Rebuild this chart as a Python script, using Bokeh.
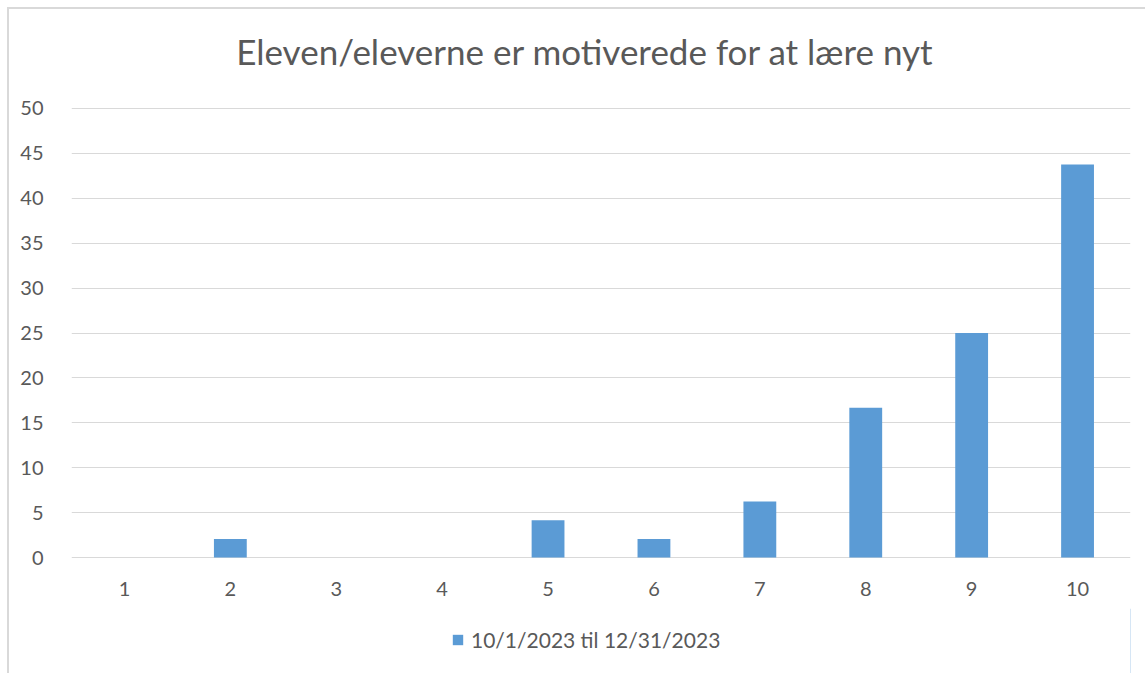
from bokeh.plotting import figure
from bokeh.layouts import column
from bokeh.models import Legend, LegendItem, FixedTicker, ColumnDataSource, Label
from bokeh.embed import file_html
from bokeh.resources import INLINE

categories = ["1", "2", "3", "4", "5", "6", "7", "8", "9", "10"]
values = [0, 2.08, 0, 0, 4.17, 2.08, 6.25, 16.67, 25.0, 43.75]
series_name = "10/1/2023 til 12/31/2023"
title_text = "Eleven/eleverne er motiverede for at lære nyt"
y_ticks = [0, 5, 10, 15, 20, 25, 30, 35, 40, 45, 50]

FONT = "Lato"
TXT = "#595959"
BAR = "#5b9bd5"
W = 1136

def strip(height, xr, yr):
    f = figure(width=W, height=height, x_range=xr, y_range=yr,
               x_axis_location=None, y_axis_location=None,
               output_backend="svg", toolbar_location=None, min_border=0)
    f.outline_line_color = None
    f.grid.visible = False
    return f

# title strip
p0 = strip(80, (0, W), (0, 80))
p0.add_layout(Label(x=551, y=39, text=title_text, text_font=FONT, text_font_size="35px",
                    text_color=TXT, text_align="center", text_baseline="middle"))

# main chart
src = ColumnDataSource(dict(cat=categories, val=values))
p = figure(width=W, height=519, x_range=categories, y_range=(-0.1, 50.1),
           output_backend="svg", toolbar_location=None,
           min_border_left=62, min_border_right=15, min_border_top=18, min_border_bottom=50)
p.outline_line_color = None
p.border_fill_color = "white"
p.background_fill_color = "white"
p.x_range.range_padding = 0

r = p.vbar(x="cat", top="val", width=0.31, source=src, fill_color=BAR, line_color=None)

p.yaxis.ticker = FixedTicker(ticks=y_ticks)
for ax in (p.xaxis[0], p.yaxis[0]):
    ax.axis_line_color = None
    ax.major_tick_line_color = None
    ax.minor_tick_line_color = None
    ax.major_label_text_font = FONT
    ax.major_label_text_font_size = "20px"
    ax.major_label_text_color = TXT
p.yaxis.major_label_standoff = 22
p.xaxis.major_label_standoff = 17

p.xgrid.grid_line_color = None
p.ygrid.grid_line_color = "#d9d9d9"
p.ygrid.grid_line_width = 1

# legend strip (swatch renderer sits outside the visible range)
p2 = strip(65, (0, 1), (0, 1))
r2 = p2.vbar(x=[10], top=[1], width=0.31, fill_color=BAR, line_color=None)
legend = Legend(items=[LegendItem(label=series_name, renderers=[r2])],
                location=(380, 21), orientation="horizontal",
                glyph_width=13, glyph_height=13, label_standoff=7, padding=0, margin=0,
                label_height=24, spacing=0, border_line_color=None, background_fill_alpha=0,
                label_text_font=FONT, label_text_font_size="21px", label_text_color=TXT)
p2.add_layout(legend)

layout = column(p0, p, p2, spacing=0,
                styles={"margin-left": "7px", "margin-top": "7px",
                        "border-left": "2px solid #d9d9d9", "border-top": "2px solid #d9d9d9"})

open("out.html", "w").write(file_html(layout, INLINE))
